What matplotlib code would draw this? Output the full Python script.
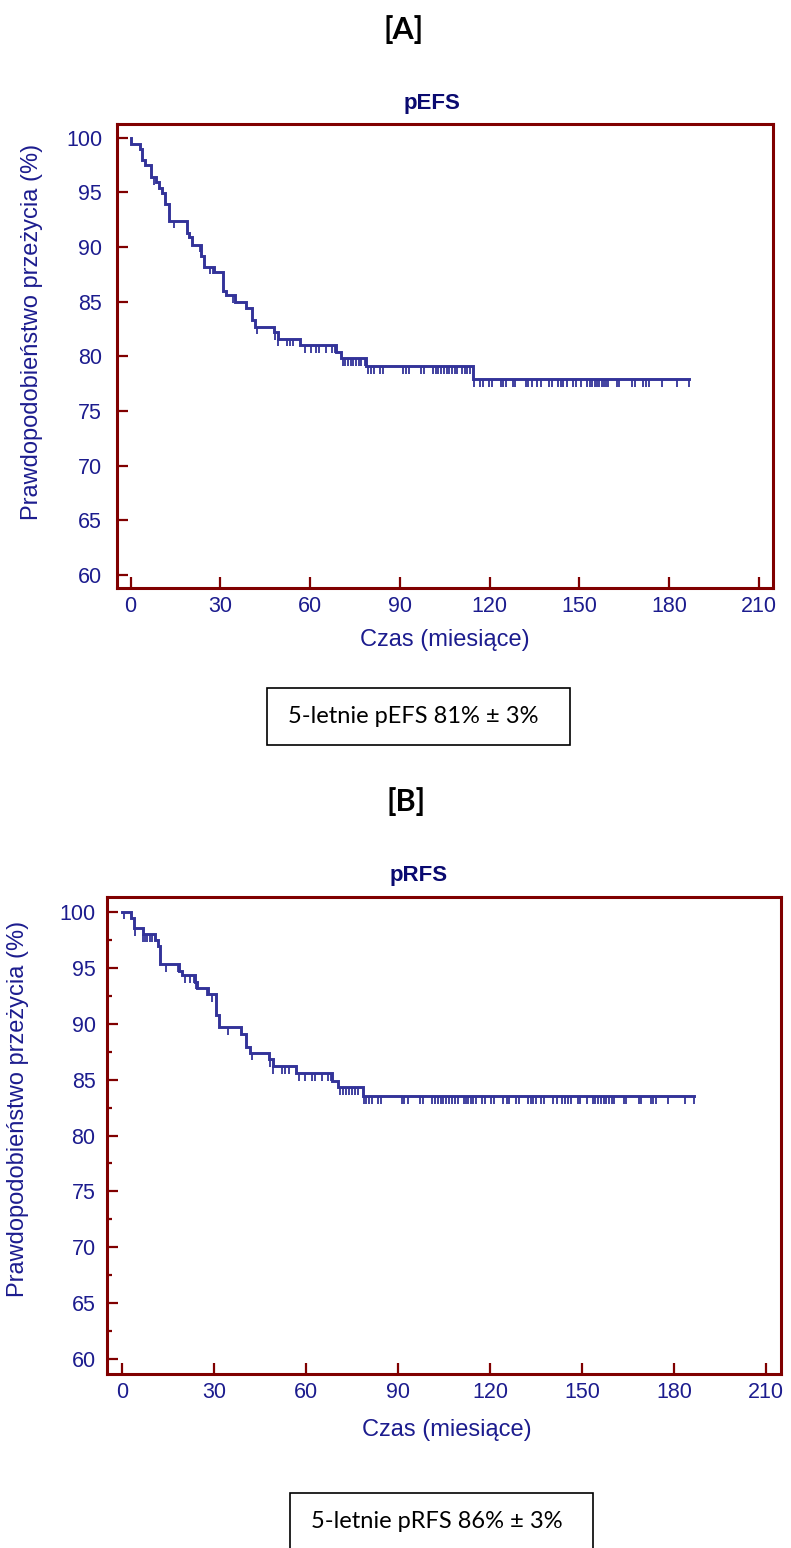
import numpy as np
import matplotlib.pyplot as plt
from matplotlib.patches import Rectangle

# pEFS: event times (months) and survival (%) right after each drop
efs_times = [0.2, 3.0, 3.8, 4.9, 6.9, 8.5, 9.6, 10.5, 11.5, 12.7, 18.8, 19.6, 20.5,
             23.6, 24.7, 28.0, 31.0, 31.8, 34.9, 38.7, 40.6, 41.5, 47.8, 49.4, 56.6,
             68.6, 70.2, 78.7, 114.4]
efs_surv = [99.4, 99.0, 98.0, 97.5, 96.4, 95.9, 95.4, 94.9, 93.9, 92.4, 91.3, 90.9, 90.2,
            89.2, 88.2, 87.7, 86.0, 85.6, 85.0, 84.4, 83.3, 82.7, 82.2, 81.6, 81.0,
            80.4, 79.8, 79.1, 77.9]
efs_censored = [7.7, 14.4, 23.2, 26.4, 27.6, 34.2, 42.2, 48.3, 49.4, 52.4, 53.3, 54.4,
                58.3, 60.2, 62.1, 63.0, 65.3, 67.4, 68.2, 71.0, 71.8, 72.7, 73.6, 74.4,
                75.4, 76.3, 77.1, 78.4, 79.3, 80.2, 81.2, 83.4, 84.3, 91.1, 92.0, 93.1,
                97.0, 98.1, 101.1, 102.0, 102.9, 103.8, 104.8, 105.6, 106.5, 107.4,
                108.3, 109.2, 110.8, 111.7, 112.6, 113.5, 114.9, 116.9, 117.8, 119.9,
                120.8, 123.8, 124.6, 125.5, 127.7, 128.6, 132.1, 132.9, 134.0, 135.9,
                137.0, 139.9, 141.0, 142.9, 143.8, 144.6, 145.7, 147.9, 149.0, 150.7,
                152.7, 153.5, 154.3, 155.1, 155.8, 156.6, 157.4, 158.2, 158.9, 159.7,
                162.5, 163.3, 167.5, 168.5, 171.4, 172.2, 173.3, 177.5, 182.7, 186.5]
efs_end = 186.5

# pRFS
rfs_times = [2.8, 3.7, 6.6, 10.7, 11.6, 12.3, 18.4, 19.3, 23.6, 24.4, 27.8, 30.5, 31.4,
             38.7, 40.3, 41.6, 47.7, 49.1, 56.7, 68.3, 70.2, 78.6]
rfs_surv = [99.4, 98.5, 98.0, 97.5, 96.9, 95.3, 94.7, 94.3, 93.75, 93.2, 92.6, 90.8, 89.7,
            89.1, 87.9, 87.4, 86.85, 86.2, 85.6, 84.9, 84.3, 83.5]
rfs_censored = [0.5, 4.1, 6.6, 7.3, 8.2, 8.9, 9.8, 14.3, 18.2, 20.4, 22.2, 23.3, 24.1,
                27.6, 29.4, 34.4, 42.4, 48.1, 49.1, 52.2, 53.1, 54.2, 57.6, 59.6, 61.8,
                62.7, 65.1, 67.2, 68.0, 71.0, 72.0, 73.0, 73.9, 74.9, 75.9, 76.8, 78.8,
                79.6, 80.5, 81.3, 83.4, 84.2, 91.2, 92.0, 93.0, 97.1, 98.0, 101.1, 102.0,
                102.8, 103.8, 104.6, 105.5, 106.4, 107.4, 108.5, 109.4, 111.3, 112.1,
                112.8, 113.7, 114.5, 115.3, 117.3, 118.3, 120.2, 121.3, 124.3, 125.3,
                126.2, 128.3, 129.2, 132.4, 133.2, 134.0, 134.8, 136.6, 137.6, 140.6,
                141.6, 143.5, 144.4, 145.3, 146.2, 148.7, 149.4, 151.4, 153.4, 154.3,
                155.1, 156.1, 157.0, 157.8, 158.8, 159.7, 160.5, 163.6, 164.4, 168.4,
                169.2, 172.4, 173.2, 174.1, 178.1, 183.6, 186.5]
rfs_end = 186.5

x_ticks = [0, 30, 60, 90, 120, 150, 180, 210]
y_ticks = [60, 65, 70, 75, 80, 85, 90, 95, 100]

frame_col = "#800000"
text_col = "#1c1c8e"
title_col = "#0a0a70"
curve_col = "#333399"

W, H = 791, 1548
fig = plt.figure(figsize=(W / 100, H / 100), dpi=100)
plt.rcParams["font.family"] = ["Liberation Sans", "DejaVu Sans"]


def px_axes(left, top, right, bottom):
    return [left / W, 1 - bottom / H, (right - left) / W, (bottom - top) / H]


def km_plot(ax, times, surv, censored, t_end, tick_len=0.7):
    t = np.concatenate([[0.0], times, [t_end]])
    s = np.concatenate([[100.0], surv, [surv[-1]]])
    ax.step(t, s, where="post", color=curve_col, lw=2.1, solid_joinstyle="miter")
    # censored cases hang below the curve
    idx = np.searchsorted(times, censored, side="right")
    s_at = np.concatenate([[100.0], surv])[idx]
    ax.vlines(censored, s_at - tick_len, s_at, color=curve_col, lw=1.3)


def style_axes(ax, xlim, ylim, ypad, minor):
    ax.set_xlim(*xlim)
    ax.set_ylim(*ylim)
    ax.set_xticks(x_ticks)
    ax.set_yticks(y_ticks)
    if minor:
        ax.set_yticks(np.arange(62.5, 100, 5), minor=True)
        ax.tick_params(axis="y", which="minor", direction="in", length=3.5,
                       width=1.6, color=frame_col)
    for side in ["left", "bottom", "top", "right"]:
        ax.spines[side].set_color(frame_col)
        ax.spines[side].set_linewidth(2.2)
    ax.tick_params(axis="both", which="major", direction="in", length=8, width=1.6,
                   color=frame_col, labelcolor=text_col, labelsize=15.5)
    ax.tick_params(axis="y", pad=ypad)
    ax.tick_params(axis="x", pad=6)


# [A] pEFS
ax1 = fig.add_axes(px_axes(116.5, 124, 773, 588))
km_plot(ax1, efs_times, efs_surv, efs_censored, efs_end)
style_axes(ax1, (-4.7, 214.7), (58.8, 101.25), 10.4, False)
ax1.set_xlabel("Czas (miesiące)", color=text_col, fontsize=17)
ax1.set_ylabel("Prawdopodobieństwo przeżycia (%)", color=text_col, fontsize=17)
ax1.xaxis.set_label_coords(0.5, -0.112)
ax1.xaxis.label.set_va("center")
ax1.yaxis.set_label_coords(-0.129, 0.552)
ax1.yaxis.label.set_va("center")

# [B] pRFS
ax2 = fig.add_axes(px_axes(106.7, 897, 781, 1374))
km_plot(ax2, rfs_times, rfs_surv, rfs_censored, rfs_end)
style_axes(ax2, (-5.1, 214.8), (58.7, 101.3), 8, True)
ax2.set_xlabel("Czas (miesiące)", color=text_col, fontsize=17)
ax2.set_ylabel("Prawdopodobieństwo przeżycia (%)", color=text_col, fontsize=17)
ax2.xaxis.set_label_coords(0.505, -0.117)
ax2.xaxis.label.set_va("center")
ax2.yaxis.set_label_coords(-0.1315, 0.556)
ax2.yaxis.label.set_va("center")


def fig_text(x, y, s, **kw):
    fig.text(x / W, 1 - y / H, s, **kw)


fig_text(404, 30, "[A]", ha="center", va="center", fontsize=22, fontweight="bold",
         family="Lato", color="black")
fig_text(406, 802, "[B]", ha="center", va="center", fontsize=22, fontweight="bold",
         family="Lato", color="black")
fig_text(432, 103, "pEFS", ha="center", va="center", fontsize=16, fontweight="bold",
         color=title_col)
fig_text(419, 875, "pRFS", ha="center", va="center", fontsize=16, fontweight="bold",
         color=title_col)

# summary boxes
for (x0, y0, x1, y1), label in [((267, 688, 570, 745), "5-letnie pEFS 81% ± 3%"),
                                ((290, 1493, 593, 1552), "5-letnie pRFS 86% ± 3%")]:
    fig.patches.append(Rectangle((x0 / W, 1 - y1 / H), (x1 - x0) / W, (y1 - y0) / H,
                                 transform=fig.transFigure, fill=False,
                                 edgecolor="black", lw=1.2))
    fig_text(x0 + 21, y0 + 28, label, ha="left", va="center", fontsize=17,
             family="Lato", color="black")

fig.savefig("out.png", dpi=100)
